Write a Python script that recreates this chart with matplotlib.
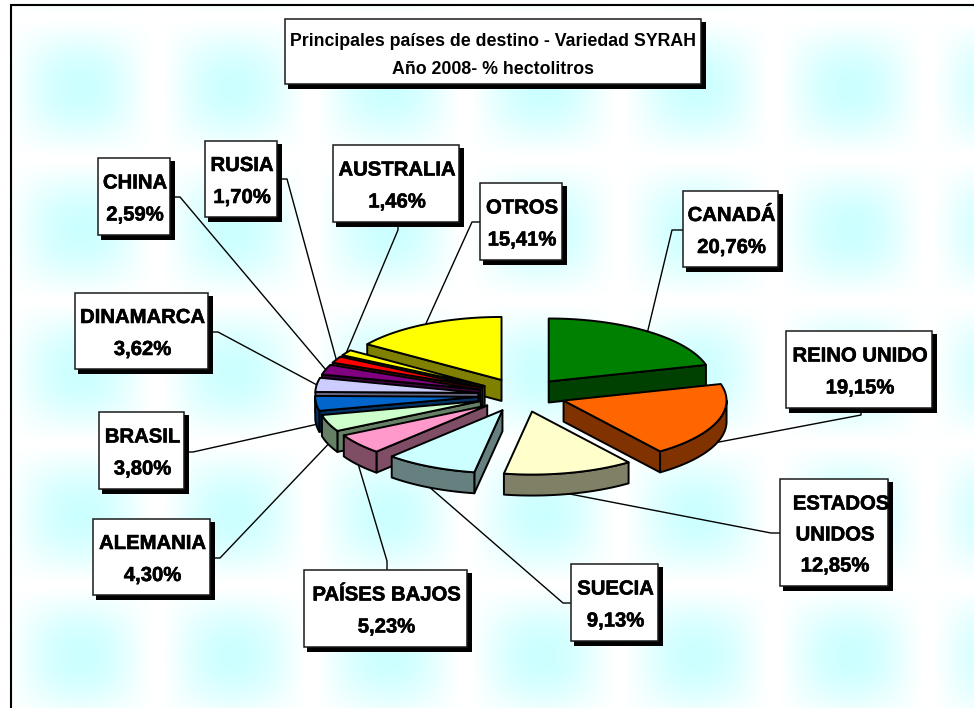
import numpy as np
import matplotlib
matplotlib.use('Agg')
import matplotlib.pyplot as plt
import matplotlib.patheffects as pe
from matplotlib.colors import to_rgb
from matplotlib.patches import Polygon, Rectangle

plt.rcParams['font.family'] = ['Liberation Sans', 'DejaVu Sans']

# Data, clockwise from 12 o'clock
countries = ['CANADÁ', 'REINO UNIDO', 'ESTADOS\nUNIDOS', 'SUECIA', 'PAÍSES BAJOS', 'ALEMANIA',
             'BRASIL', 'DINAMARCA', 'CHINA', 'RUSIA', 'AUSTRALIA', 'OTROS']
shares = [20.76, 19.15, 12.85, 9.13, 5.23, 4.30, 3.80, 3.62, 2.59, 1.70, 1.46, 15.41]
colors = ['#008000', '#FF6600', '#FFFFCC', '#CCFFFF', '#FF99CC', '#CCFFCC',
          '#0066CC', '#CCCCFF', '#800080', '#FF0000', '#FFFF00', '#FFFF00']
title_lines = ['Principales países de destino - Variedad SYRAH', 'Año 2008- % hectolitros']

# Layout in pixels: label box (x0, y0, x1, y1), where the leader leaves it, and its elbow
boxes = [(683, 191, 778, 267), (786, 331, 932, 408), (780, 479, 888, 586), (571, 564, 658, 641),
         (304, 570, 467, 647), (93, 519, 210, 595), (99, 412, 184, 489), (75, 293, 208, 369),
         (98, 158, 170, 235), (205, 141, 277, 217), (333, 145, 459, 222), (480, 183, 562, 260)]
leader_starts = [(683, 230), (861, 408), (780, 533), (571, 603), (387, 570), (210, 558),
                 (184, 452), (208, 332), (170, 197), (277, 179), (398, 222), (480, 222)]
leader_elbows = [(672, 230), (861, 415), (771, 533), (563, 603), (387, 561), (220, 558),
                 (193, 452), (218, 332), (180, 197), (287, 179), (398, 230), (472, 222)]
title_box = (285, 19, 701, 84)

# Pie projection
cx, cy = 522, 395
rx, ry = 163, 63
explode_x, explode_y = 44, 17
depth = 21
draw_order = [11, 0, 10, 9, 8, 7, 6, 5, 4, 3, 2, 1]

W, H = 974, 708
fig = plt.figure(figsize=(W / 100, H / 100), dpi=100)
ax = fig.add_axes([0, 0, 1, 1])
ax.set_xlim(0, W)
ax.set_ylim(H, 0)
ax.axis('off')

# Tiled background: soft cyan blobs on white
xx, yy = np.meshgrid(np.arange(W) + 0.5, np.arange(H) + 0.5)


def blob(pos, first, period, half_width):
    d = (pos - first + period / 2) % period - period / 2
    return np.clip(np.cos(np.pi * d / (2 * half_width)), 0, 1) ** 1.1


strength = blob(xx, 80, 154.2, 72) * blob(yy, 88, 142, 68)
bg = np.ones((H, W, 3))
bg[..., 0] = 1 - strength * 0.2
bg[:5, :] = 1
bg[:, :11] = 1
ax.imshow(bg, extent=(0, W, H, 0), aspect='auto', zorder=0, interpolation='nearest')
ax.plot([11, 11, W], [H, 5, 5], color='black', lw=1.5, zorder=1, solid_joinstyle='miter')

# Slice angles
edges = np.concatenate([[0], np.cumsum(shares)]) / sum(shares) * 360
mids = (edges[:-1] + edges[1:]) / 2


def project(theta, radius=1.0):
    t = np.radians(theta)
    return np.sin(t) * rx * radius, -np.cos(t) * ry * radius


def draw_slice(i):
    a0, a1 = edges[i], edges[i + 1]
    mid = np.radians(mids[i])
    ox = cx + explode_x * np.sin(mid)
    oy = cy - explode_y * np.cos(mid)
    apex = np.array([ox, oy])
    thetas = np.linspace(a0, a1, 60)
    px, py = project(thetas)
    arc = np.column_stack([ox + px, oy + py])
    top = np.vstack([apex, arc])
    dark = tuple(c * 0.5 for c in to_rgb(colors[i]))
    down = np.array([0, depth])
    centre = arc[len(arc) // 2]
    kw = dict(facecolor=dark, edgecolor='black', lw=1.4, joinstyle='round', zorder=3)

    # Radial cut faces seen from the front
    for end in (arc[0], arc[-1]):
        d = end - apex
        n = np.array([d[1], -d[0]])
        if n @ (centre - apex) > 0:
            n = -n
        if n[1] > 0:
            ax.add_patch(Polygon([apex, end, end + down, apex + down], **kw))

    # Outer rim on the near half
    lo, hi = max(a0, 90), min(a1, 270)
    if hi > lo:
        t2 = np.linspace(lo, hi, 60)
        rxs, rys = project(t2)
        rim = np.column_stack([ox + rxs, oy + rys])
        ax.add_patch(Polygon(np.vstack([rim, (rim + down)[::-1]]), **kw))

    ax.add_patch(Polygon(top, facecolor=colors[i], edgecolor='black', lw=1.4, joinstyle='round', zorder=3))


# Leaders run from the label box to the rim of the slice
for i, m in enumerate(mids):
    t = np.radians(m)
    end_x = cx + (explode_x + rx) * np.sin(t)
    end_y = cy - (explode_y + ry) * np.cos(t)
    if 90 < m < 270:
        end_y += depth
    sx, sy = leader_starts[i]
    ex, ey = leader_elbows[i]
    ax.plot([sx, ex, end_x], [sy, ey, end_y], color='black', lw=1.0, zorder=2)

for i in draw_order:
    draw_slice(i)


def draw_box(box):
    x0, y0, x1, y1 = box
    ax.add_patch(Rectangle((x0 + 3, y0 + 3), x1 - x0 + 2, y1 - y0 + 2, facecolor='black', edgecolor='none', zorder=4))
    ax.add_patch(Rectangle((x0, y0), x1 - x0, y1 - y0, facecolor='white', edgecolor='#1a1a1a', lw=1.1, zorder=5))


heavy = [pe.withStroke(linewidth=0.4, foreground='black')]

for name, share, box in zip(countries, shares, boxes):
    draw_box(box)
    lines = name.split('\n') + [f'{share:.2f}'.replace('.', ',') + '%']
    x_mid = (box[0] + box[2]) / 2 + 1
    y_mid = (box[1] + box[3]) / 2 + 0.5
    spacing = 32 if len(lines) == 2 else 31
    for k, line in enumerate(lines):
        y = y_mid + (k - (len(lines) - 1) / 2) * spacing
        # ESTADOS sits off-centre and runs into the shadow
        x = x_mid + 6 if line == 'ESTADOS' else x_mid
        ax.text(x, y, line, ha='center', va='center_baseline', fontsize=14.6, fontweight='bold', color='black',
                zorder=6, path_effects=heavy)

draw_box(title_box)
title_mid = (title_box[0] + title_box[2]) / 2
ax.text(title_mid, 39, title_lines[0], ha='center', va='center_baseline', fontsize=12.8, fontweight='bold', zorder=6)
ax.text(title_mid, 67, title_lines[1], ha='center', va='center_baseline', fontsize=12.8, fontweight='bold', zorder=6)

fig.savefig('out.png', dpi=100)
plt.close(fig)
